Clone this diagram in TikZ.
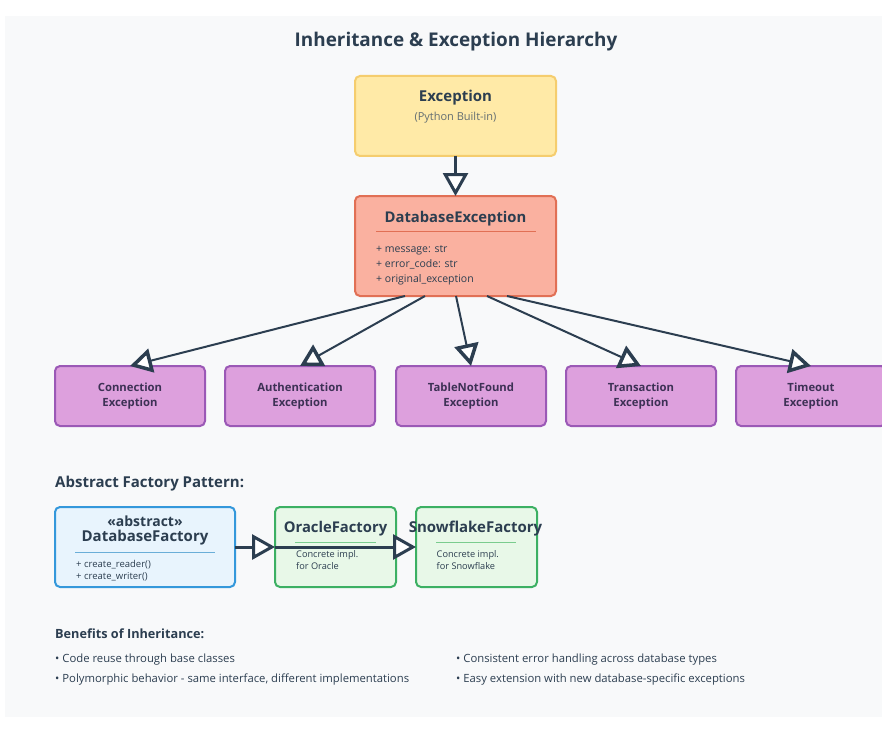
\documentclass[tikz,border=0pt]{standalone}
\usepackage{fontspec}
\setmainfont{Open Sans}
\usetikzlibrary{arrows.meta}
\definecolor{bg}{HTML}{F8F9FA}
\definecolor{ink}{HTML}{2C3E50}
\definecolor{grey}{HTML}{636E72}
\definecolor{excfill}{HTML}{FFEAA7}
\definecolor{excdraw}{HTML}{F5CD6E}
\definecolor{dbefill}{HTML}{FAB1A0}
\definecolor{dbedraw}{HTML}{E17055}
\definecolor{chfill}{HTML}{DDA0DD}
\definecolor{chdraw}{HTML}{9B59B6}
\definecolor{chtext}{HTML}{3D3155}
\definecolor{abfill}{HTML}{E8F4FD}
\definecolor{abdraw}{HTML}{3498DB}
\definecolor{absep}{HTML}{6AAED8}
\definecolor{cofill}{HTML}{E8F8E8}
\definecolor{codraw}{HTML}{3CB063}
\definecolor{cosep}{HTML}{7ACC8E}
\begin{document}
\begin{tikzpicture}[x=1pt,y=-1pt,
  box/.style={draw, rounded corners=5pt, line width=2pt, inner sep=0pt, outer sep=0pt},
  chbox/.style={box, fill=chfill, draw=chdraw, minimum width=150pt, minimum height=60pt},
  cobox/.style={box, fill=cofill, draw=codraw, minimum width=121pt, minimum height=80pt},
  inh/.style={draw=ink, line width=3pt, -{Triangle[length=23pt, width=25pt, fill=white]}},
  inhs/.style={draw=ink, line width=2pt, -{Triangle[length=22pt, width=24pt, fill=white, line width=3.5pt]}},
  lbl/.style={inner sep=0pt, anchor=base},
  lblw/.style={inner sep=0pt, anchor=base west},
  chlbl/.style={inner sep=0pt, align=center, font=\fontsize{11.3}{15}\selectfont\bfseries, text=chtext}
]
\useasboundingbox (0,0) rectangle (882,738);
\fill[bg] (5,16) rectangle (882,717);

\node[lbl, text=ink, font=\fontsize{18.9}{23}\selectfont\bfseries] (title) at (456,47) {Inheritance \& Exception Hierarchy};

% Exception
\node[box, fill=excfill, draw=excdraw, minimum width=201pt, minimum height=80pt] (exc) at (455.5,116) {};
\node[lbl, text=ink, font=\fontsize{15}{18}\selectfont\bfseries] (exct) at (455.5,102) {Exception};
\node[lbl, text=grey, font=\fontsize{11}{13}\selectfont] (excs) at (455.5,121) {(Python Built-in)};

% DatabaseException
\node[box, fill=dbefill, draw=dbedraw, minimum width=201pt, minimum height=100pt] (dbe) at (455.5,246) {};
\node[lbl, text=ink, font=\fontsize{14.8}{18}\selectfont\bfseries] (dbet) at (455.5,222) {DatabaseException};
\draw[dbedraw, line width=1pt] (376,231) -- (536,231);
\node[lblw, text=ink, font=\fontsize{10.5}{12}\selectfont] (a1) at (376,252) {+ message: str};
\node[lblw, text=ink, font=\fontsize{10.5}{12}\selectfont] (a2) at (376,267) {+ error\_code: str};
\node[lblw, text=ink, font=\fontsize{10.5}{12}\selectfont] (a3) at (376,282) {+ original\_exception};

\draw[inh] (exc.south) -- (dbe.north);

% children
\node[chbox] (c1) at (130,396) {};
\node[chbox] (c2) at (300,396) {};
\node[chbox] (c3) at (471,396) {};
\node[chbox] (c4) at (641,396) {};
\node[chbox] (c5) at (811,396) {};
\node[chlbl] at (c1) {Connection\\Exception};
\node[chlbl] at (c2) {Authentication\\Exception};
\node[chlbl] at (c3) {TableNotFound\\Exception};
\node[chlbl] at (c4) {Transaction\\Exception};
\node[chlbl] at (c5) {Timeout\\Exception};

\draw[inhs] ([xshift=-50.5pt]dbe.south) -- (c1.north);
\draw[inhs] ([xshift=-30.5pt]dbe.south) -- (c2.north);
\draw[inhs] ([xshift=0.5pt]dbe.south) -- (c3.north);
\draw[inhs] ([xshift=31.5pt]dbe.south) -- (c4.north);
\draw[inhs] ([xshift=51.5pt]dbe.south) -- (c5.north);

% Abstract factory
\node[lblw, text=ink, font=\fontsize{15}{18}\selectfont\bfseries] (afh) at (55,487) {Abstract Factory Pattern:};
\node[box, fill=abfill, draw=abdraw, minimum width=180pt, minimum height=80pt] (df) at (145,547) {};
\node[lbl, text=ink, font=\fontsize{14}{17}\selectfont\bfseries] (dft1) at (145,526) {«abstract»};
\node[lbl, text=ink, font=\fontsize{15}{18}\selectfont\bfseries] (dft2) at (145,541) {DatabaseFactory};
\draw[absep, line width=1pt] (75,552) -- (215,552);
\node[lblw, text=ink, font=\fontsize{9.5}{11}\selectfont] (m1) at (76,567) {+ create\_reader()};
\node[lblw, text=ink, font=\fontsize{9.5}{11}\selectfont] (m2) at (76,579) {+ create\_writer()};

\node[cobox] (of) at (335.5,547) {};
\node[lbl, text=ink, font=\fontsize{14.8}{17}\selectfont\bfseries] (oft) at (335.5,532) {OracleFactory};
\draw[cosep, line width=1pt] (295,542) -- (376,542);
\node[lblw, text=ink, font=\fontsize{9.2}{11}\selectfont] (o1) at (296,557) {Concrete impl.};
\node[lblw, text=ink, font=\fontsize{9.2}{11}\selectfont] (o2) at (296,569) {for Oracle};

\node[cobox] (sf) at (476.5,547) {};
\node[lbl, text=ink, font=\fontsize{15}{18}\selectfont\bfseries] (sft) at (475.5,532) {SnowflakeFactory};
\draw[cosep, line width=1pt] (436,542) -- (516,542);
\node[lblw, text=ink, font=\fontsize{9.2}{11}\selectfont] (s1) at (436.5,557) {Concrete impl.};
\node[lblw, text=ink, font=\fontsize{9.2}{11}\selectfont] (s2) at (436.5,569) {for Snowflake};

\draw[inh] (df.east) -- (of.west);
\draw[inh] (of.west) -- (sf.west);

% benefits
\node[lblw, text=ink, font=\fontsize{12.7}{15}\selectfont\bfseries] (bh) at (55,638) {Benefits of Inheritance:};
\node[lblw, text=ink, font=\fontsize{11.3}{13}\selectfont] (b1) at (55,662) {• Code reuse through base classes};
\node[lblw, text=ink, font=\fontsize{11.3}{13}\selectfont] (b2) at (55,682) {• Polymorphic behavior - same interface, different implementations};
\node[lblw, text=ink, font=\fontsize{11.3}{13}\selectfont] (b3) at (456,662) {• Consistent error handling across database types};
\node[lblw, text=ink, font=\fontsize{11.3}{13}\selectfont] (b4) at (456,682) {• Easy extension with new database-specific exceptions};
\end{tikzpicture}
\end{document}
